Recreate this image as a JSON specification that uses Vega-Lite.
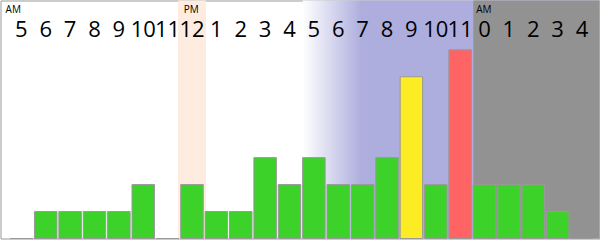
{
  "$schema": "https://vega.github.io/schema/vega-lite/v6.json",
  "width": 600,
  "height": 240,
  "autosize": {"type": "fit", "contains": "padding"},
  "padding": 0.5,
  "background": "white",
  "view": {"stroke": "#999999", "strokeWidth": 1},
  "datasets": {
    "hours": [
      {"slot": 0, "hour": "5", "count": 0},
      {"slot": 1, "hour": "6", "count": 1},
      {"slot": 2, "hour": "7", "count": 1},
      {"slot": 3, "hour": "8", "count": 1},
      {"slot": 4, "hour": "9", "count": 1},
      {"slot": 5, "hour": "10", "count": 2},
      {"slot": 6, "hour": "11", "count": 0},
      {"slot": 7, "hour": "12", "count": 2},
      {"slot": 8, "hour": "1", "count": 1},
      {"slot": 9, "hour": "2", "count": 1},
      {"slot": 10, "hour": "3", "count": 3},
      {"slot": 11, "hour": "4", "count": 2},
      {"slot": 12, "hour": "5", "count": 3},
      {"slot": 13, "hour": "6", "count": 2},
      {"slot": 14, "hour": "7", "count": 2},
      {"slot": 15, "hour": "8", "count": 3},
      {"slot": 16, "hour": "9", "count": 6},
      {"slot": 17, "hour": "10", "count": 2},
      {"slot": 18, "hour": "11", "count": 7},
      {"slot": 19, "hour": "0", "count": 2},
      {"slot": 20, "hour": "1", "count": 2},
      {"slot": 21, "hour": "2", "count": 2},
      {"slot": 22, "hour": "3", "count": 1},
      {"slot": 23, "hour": "4", "count": 0}
    ],
    "zones": [
      {"slot": 7, "zone": "noon"},
      {"slot": 12, "zone": "evening"},
      {"slot": 19, "zone": "night"}
    ],
    "meridiem": [
      {"slot": 0, "tag": "AM", "first": true},
      {"slot": 7, "tag": "PM", "first": false},
      {"slot": 19, "tag": "AM", "first": false}
    ]
  },
  "encoding": {
    "x": {
      "field": "slot",
      "type": "ordinal",
      "axis": null,
      "scale": {"range": [9.6, 592.8], "paddingInner": 0.077, "paddingOuter": 0}
    }
  },
  "layer": [
    {
      "data": {"name": "zones"},
      "transform": [{"filter": "datum.zone === 'evening'"}],
      "mark": {
        "type": "rect",
        "fill": {
          "gradient": "linear",
          "x1": 0, "y1": 0, "x2": 1, "y2": 0,
          "stops": [
            {"offset": 0, "color": "#ffffff"},
            {"offset": 0.2, "color": "#adadde"}
          ]
        }
      },
      "encoding": {
        "x": {"field": "slot", "type": "ordinal", "bandPosition": 0},
        "x2": {"value": "width"}
      }
    },
    {
      "data": {"name": "zones"},
      "transform": [{"filter": "datum.zone === 'night'"}],
      "mark": {"type": "rect", "fill": "#929292"},
      "encoding": {
        "x": {"field": "slot", "type": "ordinal", "bandPosition": 0},
        "x2": {"value": "width"}
      }
    },
    {
      "data": {"name": "zones"},
      "transform": [{"filter": "datum.zone === 'noon'"}],
      "mark": {"type": "rect", "fill": "#ffece0", "width": 28}
    },
    {
      "data": {"name": "hours"},
      "mark": {"type": "bar", "stroke": "#999999", "strokeWidth": 1},
      "encoding": {
        "y": {
          "field": "count",
          "type": "quantitative",
          "axis": null,
          "scale": {"domain": [0, 8.83], "nice": false, "zero": true}
        },
        "fill": {
          "condition": [
            {"test": "datum.slot === 16", "value": "#fbec24"},
            {"test": "datum.slot === 18", "value": "#ff6464"}
          ],
          "value": "#3cd22a"
        }
      }
    },
    {
      "data": {"name": "hours"},
      "mark": {
        "type": "text",
        "font": "Open Sans",
        "fontSize": 22,
        "color": "#000000",
        "baseline": "alphabetic",
        "align": "center"
      },
      "encoding": {
        "y": {"datum": 7.46, "type": "quantitative"},
        "text": {"field": "hour"}
      }
    },
    {
      "data": {"name": "meridiem"},
      "transform": [{"filter": "!datum.first"}],
      "mark": {
        "type": "text",
        "font": "Open Sans",
        "fontSize": 10,
        "color": "#000000",
        "baseline": "alphabetic",
        "align": "left",
        "dx": 3
      },
      "encoding": {
        "x": {"field": "slot", "type": "ordinal", "bandPosition": 0},
        "y": {"datum": 8.37, "type": "quantitative"},
        "text": {"field": "tag"}
      }
    },
    {
      "data": {"name": "meridiem"},
      "transform": [{"filter": "datum.first"}],
      "mark": {
        "type": "text",
        "font": "Open Sans",
        "fontSize": 10,
        "color": "#000000",
        "baseline": "alphabetic",
        "align": "left",
        "dx": -4.5
      },
      "encoding": {
        "x": {"field": "slot", "type": "ordinal", "bandPosition": 0},
        "y": {"datum": 8.37, "type": "quantitative"},
        "text": {"field": "tag"}
      }
    }
  ]
}
